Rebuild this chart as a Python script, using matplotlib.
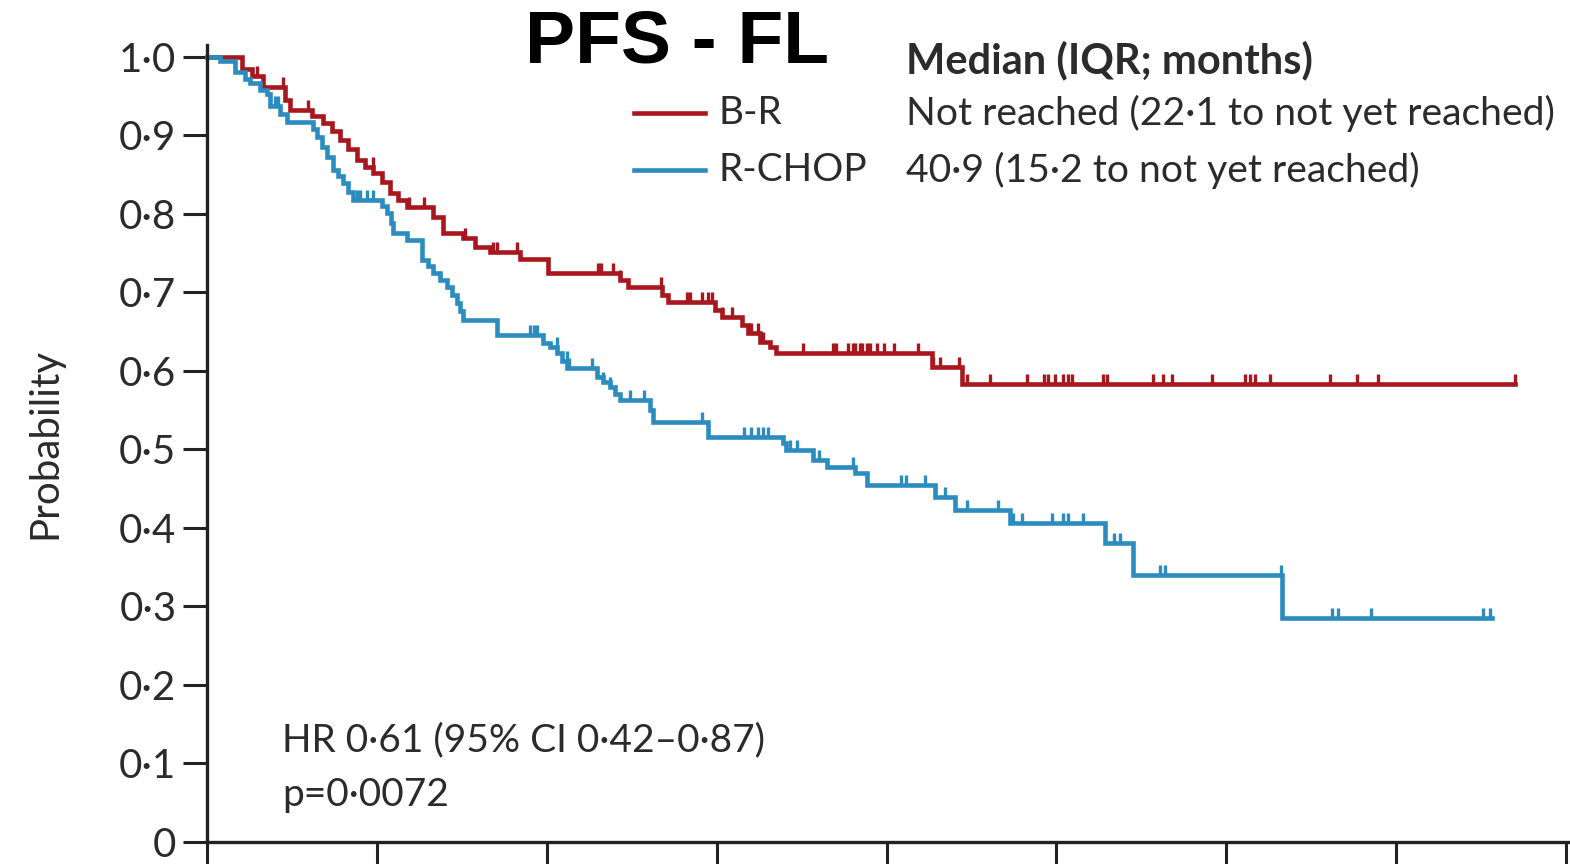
import numpy as np
import matplotlib
matplotlib.use("Agg")
import matplotlib.pyplot as plt
from matplotlib.path import Path
from matplotlib.lines import Line2D

# Kaplan-Meier steps (months, probability) for each arm
br_time = [0, 2.47, 3.18, 3.96, 5.51, 5.86, 7.42, 8.19, 8.83, 9.40, 9.96, 10.6,
           11.16, 11.73, 12.36, 12.93, 13.49, 14.13, 15.97, 16.67, 18.08, 18.93,
           19.99, 22.1, 24.09, 29.17, 29.74, 32.14, 32.57, 35.89, 36.38, 37.79,
           38.22, 39.06, 39.77, 40.19, 51.22, 53.33]
br_surv = [1.0, 0.985, 0.975, 0.962, 0.945, 0.932, 0.925, 0.916, 0.905, 0.894,
           0.882, 0.869, 0.860, 0.852, 0.840, 0.827, 0.818, 0.809, 0.796, 0.776,
           0.769, 0.758, 0.751, 0.742, 0.724, 0.716, 0.707, 0.697, 0.688, 0.678,
           0.669, 0.658, 0.648, 0.637, 0.630, 0.623, 0.605, 0.583]
br_end = 92.4
br_censor = [3.5, 5.4, 7.1, 9.4, 11.7, 14.3, 15.3, 18.2, 20.2, 20.5, 21.9, 27.6,
             27.8, 28.7, 29.2, 32.1, 33.9, 34.1, 35.0, 35.4, 35.7, 36.4, 37.1,
             38.4, 38.9, 39.3, 42.1, 44.2, 44.4, 45.3, 45.6, 45.8, 46.1, 46.3,
             46.6, 46.8, 47.3, 47.8, 48.5, 50.2, 51.3, 51.8, 53.1, 53.7, 55.3,
             57.9, 59.1, 59.4, 59.9, 60.5, 60.8, 61.1, 63.3, 63.6, 66.8, 67.5,
             68.2, 71.0, 73.3, 73.7, 74.0, 75.1, 79.3, 81.2, 82.7, 92.4]

rc_time = [0, 0.92, 1.98, 2.68, 3.04, 3.74, 4.24, 4.45, 5.16, 5.65, 7.49, 7.77,
           8.12, 8.48, 8.90, 9.25, 9.61, 9.96, 10.31, 12.36, 12.72, 13.00, 13.14,
           14.13, 15.2, 15.61, 15.97, 16.46, 16.95, 17.31, 17.66, 17.87, 18.08,
           20.49, 23.74, 24.23, 24.72, 25.08, 25.43, 27.55, 27.97, 28.47, 28.82,
           29.17, 31.29, 31.51, 35.39, 40.69, 40.9, 42.81, 43.80, 45.78, 46.62,
           51.43, 52.84, 56.72, 63.44, 65.41, 75.94]
rc_surv = [1.0, 0.995, 0.980, 0.972, 0.967, 0.958, 0.952, 0.937, 0.927, 0.917,
           0.908, 0.898, 0.885, 0.873, 0.856, 0.848, 0.839, 0.828, 0.818, 0.810,
           0.801, 0.788, 0.776, 0.767, 0.741, 0.733, 0.725, 0.716, 0.707, 0.697,
           0.687, 0.676, 0.665, 0.646, 0.636, 0.630, 0.623, 0.613, 0.604, 0.592,
           0.586, 0.580, 0.571, 0.563, 0.550, 0.535, 0.516, 0.508, 0.499, 0.487,
           0.478, 0.470, 0.455, 0.440, 0.423, 0.406, 0.381, 0.340, 0.285]
rc_end = 90.77
rc_censor = [4.8, 5.0, 10.6, 10.8, 11.3, 11.7, 22.8, 23.1, 23.3, 24.7, 25.4,
             25.6, 27.2, 28.0, 28.5, 29.9, 30.9, 35.0, 37.9, 38.4, 38.9, 39.3,
             39.6, 41.2, 41.7, 43.2, 45.6, 49.0, 49.4, 50.7, 52.1, 53.7, 55.9,
             56.9, 57.6, 59.7, 60.5, 60.8, 61.9, 64.1, 64.5, 67.3, 67.7, 75.9,
             79.5, 79.9, 82.2, 90.1, 90.6]

arms = ["B-R", "R-CHOP"]
medians = ["Not reached (22\u00b71 to not yet reached)",
           "40\u00b79 (15\u00b72 to not yet reached)"]
y_ticks = [0, 0.1, 0.2, 0.3, 0.4, 0.5, 0.6, 0.7, 0.8, 0.9, 1.0]
y_labels = ["0", "0\u00b71", "0\u00b72", "0\u00b73", "0\u00b74", "0\u00b75",
            "0\u00b76", "0\u00b77", "0\u00b78", "0\u00b79", "1\u00b70"]
x_ticks = [0, 12, 24, 36, 48, 60, 72, 84, 96]

RED = "#a8161e"
BLUE = "#2a8cbf"
TXT = "#2b2b2b"
FONT = "Lato"
FS = 28

plt.rcParams["font.family"] = [FONT, "DejaVu Sans"]

fig = plt.figure(figsize=(15.7, 8.64), dpi=100)
ax = fig.add_axes([207 / 1570, 22 / 864, 1363 / 1570, 797 / 864])

# censor tick: a short upright stroke sitting on the curve
tick = Path([(0, 0), (0, 1)])


def km(ax, t, s, end, cens, color):
    tt = list(t) + [end]
    ss = list(s) + [s[-1]]
    ax.step(tt, ss, where="post", color=color, lw=3.3, clip_on=False,
            solid_joinstyle="miter")
    idx = np.searchsorted(np.array(t), np.array(cens), side="right") - 1
    cy = np.array(s)[idx]
    ax.plot(cens, cy, ls="none", marker=tick, ms=15, mew=2.4, color=color,
            clip_on=False)


km(ax, br_time, br_surv, br_end, br_censor, RED)
km(ax, rc_time, rc_surv, rc_end, rc_censor, BLUE)

ax.set_xlim(0, 96.28)
ax.set_ylim(0, 1.015)
ax.set_xticks(x_ticks)
ax.set_xticklabels([""] * len(x_ticks))
ax.set_yticks(y_ticks)
ax.set_yticklabels(y_labels, fontsize=29, color=TXT)
ax.tick_params(axis="y", length=17, width=2.2, color="#222222", pad=5)
ax.tick_params(axis="x", length=30, width=2.2, color="#222222")
for side in ["top", "right"]:
    ax.spines[side].set_visible(False)
for side in ["left", "bottom"]:
    ax.spines[side].set_linewidth(2.4)
    ax.spines[side].set_color("#222222")
ax.set_ylabel("Probability", fontsize=29, color=TXT, labelpad=40)

fig.text(677 / 1570, 1 - 43 / 864, "PFS - FL", fontsize=54, fontweight="bold",
         family="Liberation Sans", ha="center", va="center", color="black")

# legend block with median survival
fig.text(906 / 1570, 1 - 60 / 864, "Median (IQR; months)", fontsize=30,
         fontweight="bold", ha="left", va="center", color=TXT)
for i, (name, med, col) in enumerate(zip(arms, medians, [RED, BLUE])):
    yy = 1 - (113 + 57 * i) / 864
    fig.add_artist(Line2D([634 / 1570, 705 / 1570], [yy, yy], color=col, lw=3.3,
                          transform=fig.transFigure))
    fig.text(718 / 1570, yy, name, fontsize=FS, ha="left", va="center", color=TXT)
    fig.text(906 / 1570, yy, med, fontsize=28.2, ha="left", va="center",
             color=TXT)

fig.text(282 / 1570, 1 - 740 / 864, "HR 0\u00b761 (95% CI 0\u00b742\u20130\u00b787)",
         fontsize=FS, ha="left", va="center", color=TXT)
fig.text(282 / 1570, 1 - 795 / 864, "p=0\u00b70072", fontsize=FS, ha="left",
         va="center", color=TXT)

fig.savefig("out.png", dpi=100)
